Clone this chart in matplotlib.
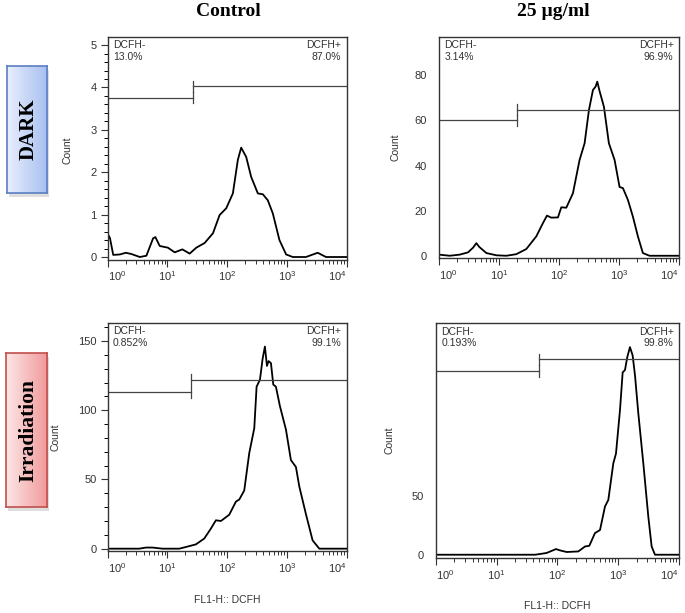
import numpy as np
import matplotlib
matplotlib.use('Agg')
import matplotlib.pyplot as plt
from matplotlib.colors import LinearSegmentedColormap
from matplotlib.ticker import MultipleLocator, LogLocator, NullFormatter, FixedLocator

plt.rcParams['font.family'] = ['Liberation Sans', 'DejaVu Sans']

# column / row headings
col_titles = ['Control', '25 µg/ml']
row_titles = ['DARK', 'Irradiation']

# x given as log10 of FL1-H intensity, y as count
dark_ctrl_logx = [0, 0.04, 0.095, 0.206, 0.306, 0.40, 0.54, 0.65, 0.762, 0.80, 0.873, 1.01,
                  1.124, 1.252, 1.374, 1.485, 1.624, 1.764, 1.875, 1.986, 2.097, 2.18, 2.236,
                  2.32, 2.403, 2.515, 2.598, 2.681, 2.765, 2.876, 2.988, 3.10, 3.32, 3.516,
                  3.655, 4.0]
dark_ctrl_y = [0.55, 0.45, 0.05, 0.06, 0.1, 0.07, 0.0, 0.03, 0.44, 0.47, 0.26, 0.22,
               0.11, 0.18, 0.08, 0.22, 0.33, 0.56, 0.99, 1.15, 1.5, 2.29, 2.58,
               2.36, 1.89, 1.5, 1.48, 1.34, 1.03, 0.4, 0.06, 0.0, 0.0, 0.1,
               0.0, 0.0]

dark_25_logx = [0, 0.178, 0.344, 0.483, 0.567, 0.622, 0.667, 0.789, 0.956, 1.122, 1.289,
                1.456, 1.622, 1.733, 1.8, 1.872, 1.983, 2.039, 2.122, 2.233, 2.344, 2.428,
                2.5, 2.567, 2.611, 2.639, 2.678, 2.75, 2.833, 2.928, 3.011, 3.067, 3.15,
                3.233, 3.317, 3.4, 3.511, 4.0]
dark_25_y = [0.5, 0.0, 0.5, 1.5, 3.6, 5.6, 4.0, 1.2, 0.2, 0.0, 0.7, 3.0, 8.6, 14.5, 17.8,
             16.9, 17.0, 21.5, 21.3, 27.7, 42.5, 49.9, 64.6, 73.5, 75.0, 77.2, 73.0, 66.1,
             49.9, 42.5, 30.5, 30.0, 24.8, 17.4, 8.6, 1.2, 0.0, 0.0]

irr_ctrl_logx = [0, 0.53, 0.642, 0.753, 0.92, 1.2, 1.31, 1.478, 1.618, 1.729, 1.813, 1.897,
                 2.036, 2.148, 2.204, 2.287, 2.371, 2.455, 2.494, 2.55, 2.594, 2.633, 2.667,
                 2.695, 2.734, 2.773, 2.817, 2.884, 2.985, 3.068, 3.152, 3.208, 3.319, 3.431,
                 3.543, 4.0]
irr_ctrl_y = [0.0, 0.0, 0.8, 0.8, 0.0, 0.0, 1.2, 3.1, 7.3, 14.5, 20.5, 20.0,
              24.5, 34.0, 35.5, 42.0, 69.0, 87.0, 117.0, 122.0, 137.0, 146.0, 132.0,
              135.5, 134.0, 118.5, 117.0, 103.0, 86.0, 64.0, 59.0, 45.0, 25.0, 6.0,
              0.0, 0.0]

irr_25_logx = [0, 1.63, 1.712, 1.822, 1.975, 2.041, 2.151, 2.343, 2.453, 2.524, 2.617, 2.7,
               2.782, 2.837, 2.919, 2.963, 3.029, 3.073, 3.111, 3.149, 3.193, 3.237, 3.276,
               3.331, 3.413, 3.495, 3.55, 3.605, 4.0]
irr_25_y = [0.0, 0.0, 0.6, 1.5, 4.8, 3.7, 2.3, 2.8, 7.0, 7.6, 18.4, 21.0,
            41.0, 46.6, 77.7, 86.0, 123.0, 155.0, 157.0, 168.0, 176.5, 169.5, 152.5,
            120.0, 77.7, 32.5, 7.0, 0.0, 0.0]

# gates: (threshold, y of DCFH- bar, y of DCFH+ bar)
gate_x = [27, 20, 24.5, 50]
gate_neg_y = [3.76, 60.0, 113.0, 156.0]
gate_pos_y = [4.03, 64.7, 121.7, 166.0]
pct_neg = ['13.0%', '3.14%', '0.852%', '0.193%']
pct_pos = ['87.0%', '96.9%', '99.1%', '99.8%']

panels = [
    (dark_ctrl_logx, dark_ctrl_y, (-0.07, 5.19), [0, 1, 2, 3, 4, 5], 0.2),
    (dark_25_logx, dark_25_y, (-1, 97), [0, 20, 40, 60, 80], None),
    (irr_ctrl_logx, irr_ctrl_y, (-1.7, 163), [0, 50, 100, 150], 10),
    (irr_25_logx, irr_25_y, (-2.8, 197), [0, 50], None),
]
rects = [
    [0.157, 0.5759, 0.349, 0.3637],
    [0.641, 0.5791, 0.350, 0.3605],
    [0.157, 0.1011, 0.349, 0.3720],
    [0.6365, 0.0897, 0.3547, 0.3834],
]
ylab_pos = [(-0.145, 0.49), (-0.163, 0.50), (-0.195, 0.50), (-0.17, 0.50)]
xlab_y = [None, None, -0.193, -0.185]

fig = plt.figure(figsize=(6.85, 6.13), dpi=100)

for i, (lx, yv, ylim, yt, yminor) in enumerate(panels):
    ax = fig.add_axes(rects[i])
    ax.plot(np.power(10.0, lx), yv, color='black', lw=1.3)
    ax.set_xscale('log')
    ax.set_xlim(1, 1e4)
    ax.set_ylim(*ylim)

    ax.xaxis.set_major_locator(FixedLocator([1, 10, 100, 1000, 10000]))
    ax.xaxis.set_minor_locator(LogLocator(base=10, subs=range(2, 10)))
    ax.xaxis.set_minor_formatter(NullFormatter())
    ax.set_xticklabels([r'$\mathregular{10^{%d}}$' % k for k in range(5)])
    labs = ax.get_xticklabels()
    labs[0].set_horizontalalignment('left')
    labs[-1].set_horizontalalignment('right')
    ax.tick_params(axis='x', which='major', length=5, width=0.8, labelsize=8, pad=2, colors='#333333')
    ax.tick_params(axis='x', which='minor', length=3, width=0.7, colors='#333333')

    ax.set_yticks(yt)
    if yminor:
        ax.yaxis.set_minor_locator(MultipleLocator(yminor))
        ax.tick_params(axis='y', which='major', length=5, width=0.8, labelsize=8, pad=3)
        ax.tick_params(axis='y', which='minor', length=3, width=0.7)
    else:
        ax.tick_params(axis='y', which='major', length=0, labelsize=8, pad=9)
    ax.tick_params(axis='y', colors='#333333')
    for s in ax.spines.values():
        s.set_color('#333333')
        s.set_linewidth(1.0)

    ax.set_ylabel('Count', fontsize=7.5, color='#333333')
    ax.yaxis.set_label_coords(*ylab_pos[i])
    if xlab_y[i] is not None:
        ax.set_xlabel('FL1-H:: DCFH', fontsize=7.5, color='#333333')
        ax.xaxis.set_label_coords(0.5, xlab_y[i])

    # gate bars
    cap = 0.025 * (ylim[1] - ylim[0])
    gc = '#444444'
    ax.plot([1, gate_x[i]], [gate_neg_y[i]] * 2, color=gc, lw=0.9)
    ax.plot([gate_x[i], 1e4], [gate_pos_y[i]] * 2, color=gc, lw=0.9)
    ax.plot([gate_x[i]] * 2, [gate_neg_y[i] - cap, gate_neg_y[i] + cap], color=gc, lw=0.9)
    ax.plot([gate_x[i]] * 2, [gate_pos_y[i] - cap, gate_pos_y[i] + cap], color=gc, lw=0.9)

    ax.text(0.022, 0.985, 'DCFH-\n' + pct_neg[i], transform=ax.transAxes, ha='left', va='top',
            fontsize=7.5, color='#333333', linespacing=1.2)
    ax.text(0.978, 0.985, 'DCFH+\n' + pct_pos[i], transform=ax.transAxes, ha='right', va='top',
            fontsize=7.5, color='#333333', linespacing=1.2)

# column titles
fig.text(228 / 685, 1 - 12 / 613, col_titles[0], ha='center', va='center',
         fontsize=14, fontweight='bold', family='Liberation Serif')
fig.text(553 / 685, 1 - 12 / 613, col_titles[1], ha='center', va='center',
         fontsize=14, fontweight='bold', family='Liberation Serif')

# row label boxes with gradient
boxes = [
    ([0.0102, 0.6852, 0.0584, 0.2072], ['#e8eefc', '#a7bff0'], '#5a7fc2', row_titles[0], 15),
    ([0.0088, 0.1729, 0.0600, 0.2512], ['#fde6e6', '#f0999a'], '#c0504d', row_titles[1], 15.5),
]
for (r, cols, edge, label, fs) in boxes:
    sh = fig.add_axes([r[0] + 0.003, r[1] - 0.006, r[2], r[3]])
    sh.set_facecolor('#c8c8c8')
    sh.set_xticks([]); sh.set_yticks([])
    for s in sh.spines.values():
        s.set_visible(False)
    sh.patch.set_alpha(0.6)
    bx = fig.add_axes(r)
    cmap = LinearSegmentedColormap.from_list('g', cols)
    grad = np.linspace(0, 1, 100).reshape(1, -1)
    bx.imshow(grad, aspect='auto', cmap=cmap, extent=[0, 1, 0, 1])
    bx.set_xticks([]); bx.set_yticks([])
    for s in bx.spines.values():
        s.set_color(edge)
        s.set_linewidth(1.2)
    bx.text(0.55, 0.5, label, rotation=90, ha='center', va='center', transform=bx.transAxes,
            fontsize=fs, fontweight='bold', family='Liberation Serif')

fig.savefig('out.png', dpi=100)
